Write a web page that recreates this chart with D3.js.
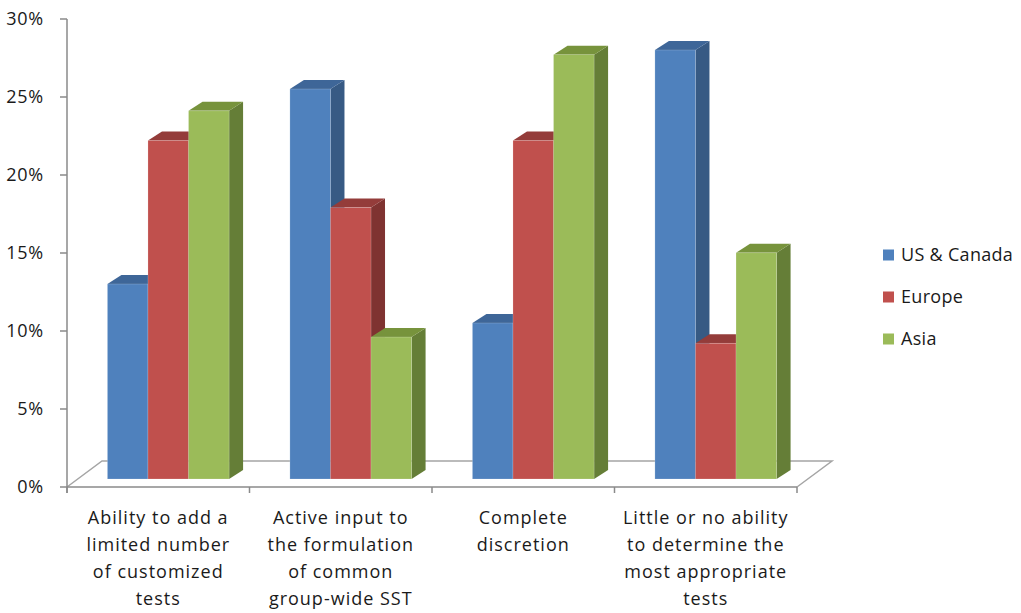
<!DOCTYPE html>
<html>
<head>
<meta charset="utf-8">
<script src="https://cdn.jsdelivr.net/npm/d3@7"></script>
<style>
  html, body { margin: 0; padding: 0; background: #fff; }
  svg { display: block; }
  text { font-family: "Open Sans", Lato, "Liberation Sans", sans-serif; fill: #1a1a1a; }
</style>
</head>
<body>
<svg id="chart" width="1021" height="613"></svg>
<script>
const categories = [
  ["Ability to add a", "limited number", "of customized", "tests"],
  ["Active input to", "the formulation", "of common", "group-wide SST"],
  ["Complete", "discretion"],
  ["Little or no ability", "to determine the", "most appropriate", "tests"]
];
const seriesNames = ["US & Canada", "Europe", "Asia"];
const usCanada = [12.5, 25.0, 10.0, 27.5];
const europe   = [21.7, 17.4, 21.7, 8.7];
const asia     = [23.6, 9.1, 27.2, 14.5];
const yTicks = [0, 5, 10, 15, 20, 25, 30];

const seriesValues = [usCanada, europe, asia];
const frontColors = ["#4F81BD", "#C0504D", "#9BBB59"];
const topColors   = ["#3E6698", "#943C3A", "#77933C"];
const sideColors  = ["#375A84", "#7F3331", "#657E37"];

const svg = d3.select("#chart");

const x0 = 67, x1 = 797, yBase = 487, yTop = 19;
const floorDx = 35, floorDy = -26;
const planeDx = 10, planeDy = -8;   // bar front plane offset
const depthDx = 14, depthDy = -9;   // bar depth

const xCat = d3.scaleBand().domain(d3.range(categories.length)).range([x0, x1]).paddingInner(0).paddingOuter(0);
const y = d3.scaleLinear().domain([0, 30]).range([yBase, yTop]);
const step = xCat.bandwidth();
const barW = step / 4.5;
const xSer = d3.scaleBand().domain(d3.range(seriesNames.length))
  .range([0.75 * barW, 3.75 * barW]).paddingInner(0);

// floor
const floorColor = "#A5A5A5";
svg.append("path")
  .attr("d", `M${x0},${yBase} L${x0 + floorDx},${yBase + floorDy} L${x1 + floorDx},${yBase + floorDy} L${x1},${yBase}`)
  .attr("fill", "none").attr("stroke", floorColor).attr("stroke-width", 1.5);

// bars
const g = svg.append("g");
categories.forEach((c, ci) => {
  seriesValues.forEach((vals, si) => {
    const v = vals[ci];
    const bx = xCat(ci) + xSer(si) + planeDx;
    const w = xSer.bandwidth();
    const yb = y(0) + planeDy;
    const yt = y(v) + planeDy;
    g.append("path")
      .attr("d", `M${bx + w},${yb} L${bx + w + depthDx},${yb + depthDy} L${bx + w + depthDx},${yt + depthDy} L${bx + w},${yt} Z`)
      .attr("fill", sideColors[si]);
    g.append("path")
      .attr("d", `M${bx},${yt} L${bx + depthDx},${yt + depthDy} L${bx + w + depthDx},${yt + depthDy} L${bx + w},${yt} Z`)
      .attr("fill", topColors[si]);
    g.append("rect")
      .attr("x", bx).attr("y", yt).attr("width", w).attr("height", yb - yt)
      .attr("fill", frontColors[si])
      .attr("stroke", "rgba(255,255,255,0.25)").attr("stroke-width", 0.7);
  });
});

// y axis
const axisColor = "#8A8A8A";
svg.append("line").attr("x1", x0).attr("x2", x0).attr("y1", y(30)).attr("y2", yBase + 6)
  .attr("stroke", axisColor).attr("stroke-width", 1.5);
svg.selectAll(".ytick").data(yTicks).enter().append("line")
  .attr("x1", x0 - 7).attr("x2", x0).attr("y1", d => y(d)).attr("y2", d => y(d))
  .attr("stroke", axisColor).attr("stroke-width", 1.5);
svg.selectAll(".ylab").data(yTicks).enter().append("text")
  .attr("x", 44).attr("y", d => y(d)).attr("dy", "0.35em")
  .attr("text-anchor", "end").attr("font-size", 18).attr("letter-spacing", 0.8)
  .text(d => d + "%");

// x axis line & ticks
svg.append("line").attr("x1", x0).attr("x2", x1).attr("y1", yBase).attr("y2", yBase)
  .attr("stroke", axisColor).attr("stroke-width", 1.5);
const catEdges = d3.range(categories.length + 1).map(i => x0 + i * step);
svg.selectAll(".xtick").data(catEdges).enter().append("line")
  .attr("x1", d => d).attr("x2", d => d).attr("y1", yBase).attr("y2", yBase + 6)
  .attr("stroke", axisColor).attr("stroke-width", 1.5);

// category labels
categories.forEach((lines, ci) => {
  const cx = xCat(ci) + step / 2;
  const t = svg.append("text").attr("text-anchor", "middle").attr("font-size", 18)
    .attr("letter-spacing", 1)
    .attr("x", cx).attr("y", 524);
  lines.forEach((ln, li) => {
    t.append("tspan").attr("x", cx).attr("dy", li === 0 ? 0 : 27).text(ln);
  });
});

// legend
const leg = svg.append("g");
seriesNames.forEach((n, i) => {
  const cy = 255 + i * 42;
  leg.append("rect").attr("x", 883).attr("y", cy - 5.5).attr("width", 11).attr("height", 11)
    .attr("fill", frontColors[i]);
  leg.append("text").attr("x", 901).attr("y", cy).attr("dy", "0.35em")
    .attr("font-size", 18).attr("letter-spacing", 0.3).text(n);
});
</script>
</body>
</html>
